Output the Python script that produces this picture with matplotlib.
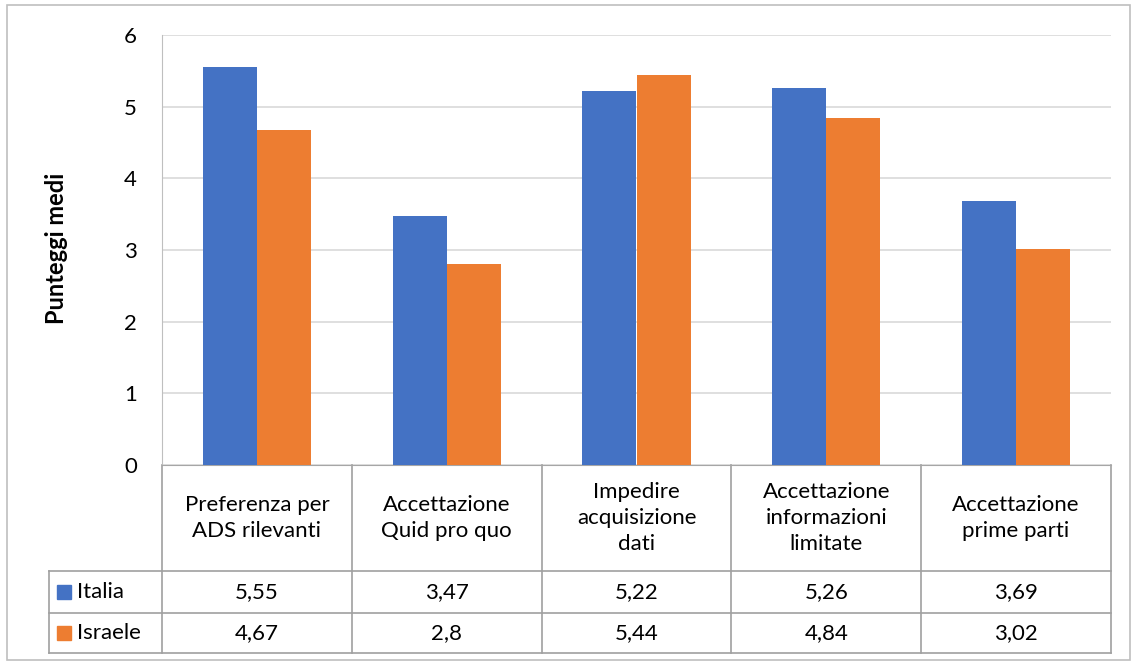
import numpy as np
import matplotlib.pyplot as plt
from matplotlib.patches import Rectangle

plt.rcParams['font.family'] = ['Lato', 'DejaVu Sans']

categorie = ["Preferenza per\nADS rilevanti",
             "Accettazione\nQuid pro quo",
             "Impedire\nacquisizione\ndati",
             "Accettazione\ninformazioni\nlimitate",
             "Accettazione\nprime parti"]
serie = ["Italia", "Israele"]
italia = [5.55, 3.47, 5.22, 5.26, 3.69]
israele = [4.67, 2.8, 5.44, 4.84, 3.02]
etichette_italia = ["5,55", "3,47", "5,22", "5,26", "3,69"]
etichette_israele = ["4,67", "2,8", "5,44", "4,84", "3,02"]
colori = ['#4472C4', '#ED7D31']

W, H = 1131, 664
fig = plt.figure(figsize=(W / 100, H / 100), dpi=100)
fs = 16

# plot area in pixels
left, right, top, bottom = 162, 1111, 35, 465
ax = fig.add_axes([left / W, 1 - bottom / H, (right - left) / W, (bottom - top) / H])

x = np.arange(len(categorie))
w = 0.285
ax.bar(x - w / 2, italia, w, color=colori[0], zorder=3)
ax.bar(x + w / 2, israele, w, color=colori[1], zorder=3)

ax.set_xlim(-0.5, len(categorie) - 0.5)
ax.set_ylim(0, 6)
ax.set_yticks(range(0, 7))
ax.set_xticks([])
ax.grid(axis='y', color='#d9d9d9', linewidth=1.2, zorder=0)
for s in ['top', 'right']:
    ax.spines[s].set_visible(False)
ax.spines['left'].set_color('#bfbfbf')
ax.spines['bottom'].set_color('#a6a6a6')
ax.tick_params(axis='y', length=0, pad=18, labelsize=fs, labelcolor='#000000')
fig.text(57 / W, 1 - 248 / H, "Punteggi medi", rotation=90, ha='center', va='center',
         fontsize=17, fontweight='bold')

# data table below the axes
tr = ax.get_xaxis_transform()
ph = bottom - top
colw = (right - left) / len(categorie)
y_r1 = -(571 - bottom) / ph
y_r2 = -(613 - bottom) / ph
y_r3 = -(653 - bottom) / ph
x_leg = -0.5 - (left - 49) / colw
lc = '#a0a0a0'

for xi in np.arange(-0.5, len(categorie), 1.0):
    ax.plot([xi, xi], [0, y_r3], transform=tr, color=lc, lw=1.2, clip_on=False)
ax.plot([x_leg, x_leg], [y_r1, y_r3], transform=tr, color=lc, lw=1.2, clip_on=False)
for yy in [y_r1, y_r2, y_r3]:
    ax.plot([x_leg, len(categorie) - 0.5], [yy, yy], transform=tr, color=lc, lw=1.2, clip_on=False)

for i, c in enumerate(categorie):
    ax.text(i, y_r1 / 2, c, transform=tr, ha='center', va='center',
            fontsize=fs, linespacing=1.4, clip_on=False)
    ax.text(i, (y_r1 + y_r2) / 2, etichette_italia[i], transform=tr,
            ha='center', va='center', fontsize=fs)
    ax.text(i, (y_r2 + y_r3) / 2, etichette_israele[i], transform=tr,
            ha='center', va='center', fontsize=fs)

# legend keys inside the table
for j, (nome, yc) in enumerate(zip(serie, [(y_r1 + y_r2) / 2, (y_r2 + y_r3) / 2])):
    ax.add_patch(Rectangle((x_leg + 8 / colw, yc - 7 / ph), 14 / colw, 14 / ph,
                           transform=tr, color=colori[j], clip_on=False))
    ax.text(x_leg + 28 / colw, yc, nome, transform=tr, ha='left', va='center', fontsize=fs)

# chart border
fig.patches.append(Rectangle((7 / W, 1 - 660 / H), (1130 - 7) / W, (660 - 5) / H,
                             transform=fig.transFigure, fill=False,
                             edgecolor='#bfbfbf', lw=1.2))

fig.savefig("out.png", dpi=100)
